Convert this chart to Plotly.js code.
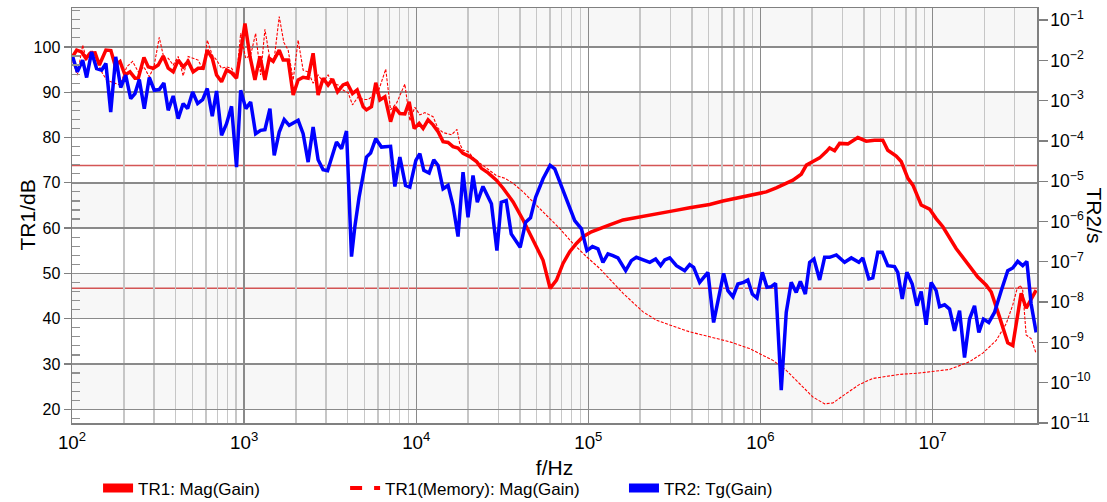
<!DOCTYPE html>
<html>
<head>
<meta charset="utf-8">
<script src="https://cdn.plot.ly/plotly-3.0.1.min.js"></script>
<style>html,body{margin:0;padding:0;background:#fff;}#chart{width:1107px;height:502px;}</style>
</head>
<body>
<div id="chart"></div>
<script>
// TR1: Mag(Gain) — log10(f/Hz) and dB
const tr1LogFreq = [2.004,2.027,2.056,2.081,2.105,2.134,2.159,2.197,2.226,2.250,2.279,2.308,2.337,2.366,2.385,2.418,2.443,2.472,2.501,2.530,2.559,2.588,2.617,2.646,2.675,2.704,2.733,2.762,2.786,2.815,2.840,2.869,2.898,2.927,2.956,2.980,3.005,3.034,3.063,3.092,3.121,3.146,3.169,3.204,3.227,3.256,3.285,3.314,3.343,3.372,3.401,3.430,3.459,3.488,3.514,3.543,3.575,3.599,3.630,3.657,3.692,3.711,3.740,3.765,3.789,3.818,3.851,3.876,3.905,3.934,3.959,3.988,4.017,4.040,4.069,4.098,4.127,4.156,4.185,4.214,4.243,4.272,4.311,4.350,4.379,4.418,4.466,4.505,4.563,4.621,4.660,4.699,4.737,4.778,4.815,4.853,4.892,4.931,4.969,5.018,5.066,5.124,5.202,5.298,5.395,5.492,5.589,5.705,5.782,5.879,5.976,6.034,6.092,6.150,6.189,6.237,6.267,6.305,6.344,6.383,6.402,6.431,6.460,6.508,6.566,6.615,6.663,6.711,6.740,6.789,6.818,6.857,6.886,6.934,6.983,7.021,7.060,7.137,7.196,7.263,7.312,7.341,7.389,7.437,7.466,7.515,7.544,7.602];
const tr1MagDb = [97.9,99.3,98.9,97.5,98.6,98.7,96.0,99.3,99.2,96.0,96.8,93.8,94.5,93.1,93.1,97.7,95.6,95.3,96.0,98.0,95.3,94.5,97.1,95.6,96.8,94.5,95.3,95.3,99.3,97.5,93.8,92.3,94.9,94.3,93.1,99.3,105.2,97.9,92.7,97.9,92.7,97.5,96.8,99.3,97.1,97.1,89.4,92.7,93.3,93.1,98.6,89.4,93.1,91.6,92.9,90.1,91.6,92.0,89.7,90.5,86.8,86.1,86.8,92.1,88.3,89.0,83.5,86.7,85.3,85.2,87.9,82.0,83.1,82.0,83.9,82.8,81.3,79.1,78.9,78.0,77.7,76.5,75.8,74.7,73.2,72.2,70.6,68.8,65.8,61.8,58.8,56.2,52.9,46.7,48.5,52.2,54.8,56.6,58.1,59.2,59.8,60.7,61.8,62.4,63.0,63.8,64.5,65.2,66.0,66.8,67.7,68.0,68.9,70.0,70.6,71.9,73.9,74.7,75.5,76.9,77.7,77.1,78.7,78.6,80.0,79.2,79.4,79.4,77.2,75.9,74.7,71.0,69.5,65.1,64.2,62.1,60.3,55.5,52.6,49.2,47.4,45.9,40.4,34.7,34.1,45.6,42.3,46.3];

// TR1(Memory): Mag(Gain)
const memLogFreq = [2.004,2.031,2.062,2.085,2.114,2.143,2.172,2.202,2.240,2.279,2.318,2.352,2.385,2.418,2.449,2.476,2.507,2.534,2.559,2.588,2.617,2.646,2.675,2.704,2.733,2.762,2.786,2.815,2.840,2.869,2.898,2.927,2.956,2.980,3.009,3.038,3.067,3.096,3.121,3.150,3.173,3.204,3.231,3.256,3.285,3.314,3.343,3.372,3.401,3.430,3.459,3.488,3.517,3.546,3.575,3.604,3.630,3.663,3.692,3.721,3.779,3.823,3.851,3.886,3.934,3.963,3.992,4.021,4.050,4.098,4.127,4.156,4.179,4.205,4.237,4.253,4.272,4.301,4.340,4.379,4.418,4.466,4.515,4.563,4.621,4.679,4.756,4.834,4.911,4.989,5.066,5.202,5.318,5.395,5.473,5.589,5.705,5.821,5.937,6.034,6.073,6.150,6.228,6.305,6.373,6.421,6.499,6.576,6.653,6.731,6.808,6.924,7.041,7.099,7.215,7.292,7.370,7.428,7.466,7.489,7.509,7.524,7.544,7.573,7.602];
const memMagDb = [96.8,93.8,100.4,97.1,99.3,97.5,94.5,92.7,92.1,91.6,95.6,96.8,94.5,95.6,93.4,95.6,102.1,97.5,97.5,96.0,97.9,93.6,97.9,97.5,97.1,94.9,101.5,98.2,97.1,95.3,95.6,95.3,93.4,103.0,97.5,98.2,103.0,93.8,103.9,97.3,96.8,106.7,101.0,99.3,92.7,101.5,94.9,94.5,92.0,93.8,92.3,93.8,92.0,91.6,90.5,89.9,87.2,89.0,88.4,88.4,90.1,95.1,86.1,87.6,91.8,83.7,86.7,85.0,85.5,84.6,82.0,81.1,80.9,80.6,81.8,78.6,77.2,76.9,75.2,74.1,73.0,71.6,71.0,69.9,68.0,65.8,62.9,59.9,56.6,53.7,51.1,45.6,41.5,39.7,38.6,37.1,36.0,34.9,33.4,31.6,30.8,28.6,25.7,22.7,21.2,21.4,23.5,25.5,26.8,27.3,27.7,28.0,28.5,28.8,30.5,32.4,35.2,38.9,43.0,46.3,47.4,46.3,36.4,35.6,32.3];

// TR2: Tg(Gain) — log10(f/Hz) and log10(delay/s)
const tr2LogFreq = [2.004,2.031,2.062,2.085,2.114,2.143,2.172,2.197,2.225,2.254,2.283,2.312,2.341,2.366,2.391,2.420,2.449,2.478,2.507,2.534,2.559,2.588,2.617,2.646,2.672,2.701,2.730,2.759,2.786,2.815,2.840,2.869,2.898,2.927,2.956,2.980,3.010,3.038,3.067,3.096,3.121,3.150,3.175,3.204,3.233,3.262,3.314,3.343,3.372,3.401,3.430,3.459,3.485,3.508,3.537,3.566,3.595,3.624,3.643,3.668,3.692,3.711,3.735,3.765,3.798,3.851,3.876,3.905,3.938,3.963,3.998,4.021,4.044,4.075,4.102,4.127,4.156,4.185,4.214,4.243,4.272,4.301,4.330,4.355,4.388,4.437,4.469,4.494,4.523,4.552,4.604,4.636,4.664,4.694,4.737,4.778,4.805,4.843,4.882,4.921,4.960,4.992,5.024,5.056,5.085,5.114,5.143,5.172,5.217,5.250,5.279,5.318,5.357,5.391,5.420,5.444,5.473,5.512,5.560,5.589,5.612,5.647,5.695,5.728,5.759,5.786,5.811,5.840,5.869,5.902,5.927,5.953,5.980,6.011,6.038,6.063,6.088,6.121,6.150,6.179,6.208,6.232,6.261,6.286,6.311,6.344,6.373,6.402,6.441,6.489,6.528,6.572,6.595,6.630,6.653,6.682,6.708,6.740,6.779,6.798,6.824,6.851,6.882,6.909,6.934,6.963,6.992,7.021,7.041,7.070,7.099,7.128,7.157,7.186,7.215,7.244,7.269,7.296,7.327,7.360,7.399,7.437,7.466,7.495,7.524,7.548,7.573,7.602];
const tr2LogDelay = [-1.913,-2.286,-1.995,-2.425,-1.789,-2.202,-2.244,-2.078,-3.281,-1.913,-2.675,-2.368,-2.948,-2.823,-2.475,-3.197,-2.425,-2.741,-2.724,-2.560,-3.239,-2.883,-3.445,-3.072,-3.197,-2.784,-3.072,-2.973,-2.699,-3.388,-2.759,-3.861,-3.570,-3.139,-4.649,-2.741,-3.197,-3.032,-3.819,-3.736,-3.719,-3.197,-4.358,-3.778,-3.470,-3.612,-3.488,-3.819,-4.525,-3.654,-4.466,-4.714,-4.740,-4.440,-4.027,-4.192,-3.754,-6.871,-6.142,-5.395,-4.813,-4.400,-4.301,-3.943,-4.152,-4.134,-5.129,-4.400,-5.104,-5.147,-4.483,-4.316,-4.731,-4.798,-4.466,-4.607,-5.187,-5.104,-5.602,-6.373,-4.773,-5.893,-4.856,-5.520,-5.129,-5.560,-6.721,-5.520,-5.478,-6.306,-6.639,-6.017,-5.909,-5.395,-4.938,-4.607,-4.690,-5.104,-5.560,-5.975,-6.182,-6.721,-6.622,-6.679,-7.012,-6.804,-6.846,-6.903,-7.219,-6.970,-6.888,-6.953,-7.012,-6.928,-7.095,-6.953,-6.903,-7.095,-7.219,-7.070,-7.137,-7.510,-7.261,-8.505,-7.841,-7.286,-7.716,-7.866,-7.550,-7.510,-7.450,-7.799,-7.898,-7.261,-7.634,-7.617,-7.535,-10.187,-8.256,-7.510,-7.759,-7.485,-7.799,-7.012,-6.928,-7.450,-6.888,-6.888,-6.829,-7.012,-6.903,-7.012,-6.903,-7.425,-7.400,-6.764,-6.764,-7.095,-7.119,-7.261,-7.923,-7.261,-7.550,-8.090,-7.734,-8.562,-7.510,-7.716,-8.110,-8.065,-8.172,-8.711,-8.214,-9.376,-8.420,-8.090,-8.754,-8.420,-8.505,-8.256,-7.716,-7.219,-7.152,-6.988,-7.095,-6.988,-8.047,-8.754];

// Marker readout
const markerFreqHz = 6.0e4;
const markerMagDb = 46.7;
const markerDelayS = 2.47e-5;

// Shaded bands on the TR1 axis
const leftBands = [[20,30],[40,50],[60,70],[80,90],[100,120]];
const legendNames = ["TR1: Mag(Gain)", "TR1(Memory): Mag(Gain)", "TR2: Tg(Gain)"];

const pow10 = a => a.map(v => Math.pow(10, v));
const RED = '#ff0000', BLUE = '#0000ff', MARK = 'rgba(205,55,55,0.85)';

const traces = [
  {x: pow10(memLogFreq), y: memMagDb, type:'scatter', mode:'lines', name: legendNames[1],
   line:{color:RED, width:1.1, dash:'3px,1.5px'}, showlegend:false, xaxis:'x', yaxis:'y'},
  {x: pow10(tr1LogFreq), y: tr1MagDb, type:'scatter', mode:'lines', name: legendNames[0],
   line:{color:RED, width:3.5}, showlegend:false, xaxis:'x', yaxis:'y'},
  {x: pow10(tr2LogFreq), y: pow10(tr2LogDelay), type:'scatter', mode:'lines', name: legendNames[2],
   line:{color:BLUE, width:3.5}, showlegend:false, xaxis:'x', yaxis:'y2'},
  // legend entries
  {x:[null], y:[null], type:'scatter', mode:'lines', name: legendNames[0], line:{color:RED, width:9}, legend:'legend'},
  {x:[null], y:[null], type:'scatter', mode:'lines', name: legendNames[1], line:{color:RED, width:4, dash:'dash'}, legend:'legend2'},
  {x:[null], y:[null], type:'scatter', mode:'lines', name: legendNames[2], line:{color:BLUE, width:9}, legend:'legend3'}
];

const shapes = leftBands.map(b => ({type:'rect', xref:'paper', x0:0, x1:1, yref:'y', y0:b[0], y1:b[1],
  fillcolor:'#f7f7f7', line:{width:0}, layer:'below'}));
shapes.push({type:'line', xref:'x', x0:markerFreqHz, x1:markerFreqHz, yref:'paper', y0:0, y1:1, line:{color:MARK, width:1.5}, layer:'between'});
shapes.push({type:'line', xref:'paper', x0:0, x1:1, yref:'y', y0:markerMagDb, y1:markerMagDb, line:{color:MARK, width:1.5}, layer:'between'});
shapes.push({type:'line', xref:'paper', x0:0, x1:1, yref:'y2', y0:markerDelayS, y1:markerDelayS, line:{color:MARK, width:1.5}, layer:'between'});

const FONT = 'Liberation Sans, Arial, sans-serif';
const legendCommon = {orientation:'h', yanchor:'middle', y:-0.158, xanchor:'left', font:{family:FONT, size:17, color:'#000'}, bgcolor:'rgba(0,0,0,0)'};

const layout = {
  width:1107, height:502,
  margin:{l:72, r:70, t:8, b:79, autoexpand:false},
  paper_bgcolor:'#fff', plot_bgcolor:'#fff',
  font:{family:FONT, color:'#000'},
  xaxis:{type:'log', range:[2, 7.607], dtick:1, exponentformat:'power',
    showgrid:true, gridcolor:'#8a8a8a', gridwidth:1.3,
    minor:{dtick:'D1', showgrid:true, gridcolor:'#c6c6c6', gridwidth:1.5, ticks:''},
    showline:true, linecolor:'#808080', linewidth:1.5, mirror:true, ticks:'', zeroline:false,
    automargin:false, ticklabelstandoff:3,
    tickfont:{family:FONT, size:15},
    title:{text:'f/Hz', font:{family:FONT, size:21}, standoff:8}},
  yaxis:{range:[16.97, 108.6], dtick:10, tick0:0, showgrid:true, gridcolor:'#8a8a8a', gridwidth:1.5,
    ticks:'outside', ticklen:7, tickcolor:'#808080', tickwidth:1.3,
    minor:{dtick:2, ticks:'inside', ticklen:8, tickcolor:'#909090', tickwidth:1.2, showgrid:false},
    showline:true, linecolor:'#808080', linewidth:1.5, zeroline:false,
    automargin:false,
    tickfont:{family:FONT, size:16}},
  yaxis2:{type:'log', overlaying:'y', side:'right', range:[-11, -0.70], dtick:1, exponentformat:'power',
    showgrid:false, ticks:'outside', ticklen:9, tickcolor:'#808080', tickwidth:1.3,
    showline:true, linecolor:'#808080', linewidth:1.5, zeroline:false,
    automargin:false,
    tickfont:{family:FONT, size:14}},
  shapes: shapes,
  annotations:[
    {text:'TR1/dB', xref:'paper', yref:'paper', x:0, y:0.5, xshift:-45, textangle:-90,
     showarrow:false, font:{family:FONT, size:21, color:'#000'}, xanchor:'center', yanchor:'middle'},
    {text:'TR2/s', xref:'paper', yref:'paper', x:1, y:0.5, xshift:57, textangle:90,
     showarrow:false, font:{family:FONT, size:21, color:'#000'}, xanchor:'center', yanchor:'middle'}],
  showlegend:true,
  legend: Object.assign({}, legendCommon, {x:0.027}),
  legend2: Object.assign({}, legendCommon, {x:0.283}),
  legend3: Object.assign({}, legendCommon, {x:0.572})
};

Plotly.newPlot('chart', traces, layout, {displayModeBar:false, staticPlot:true});
</script>
</body>
</html>
